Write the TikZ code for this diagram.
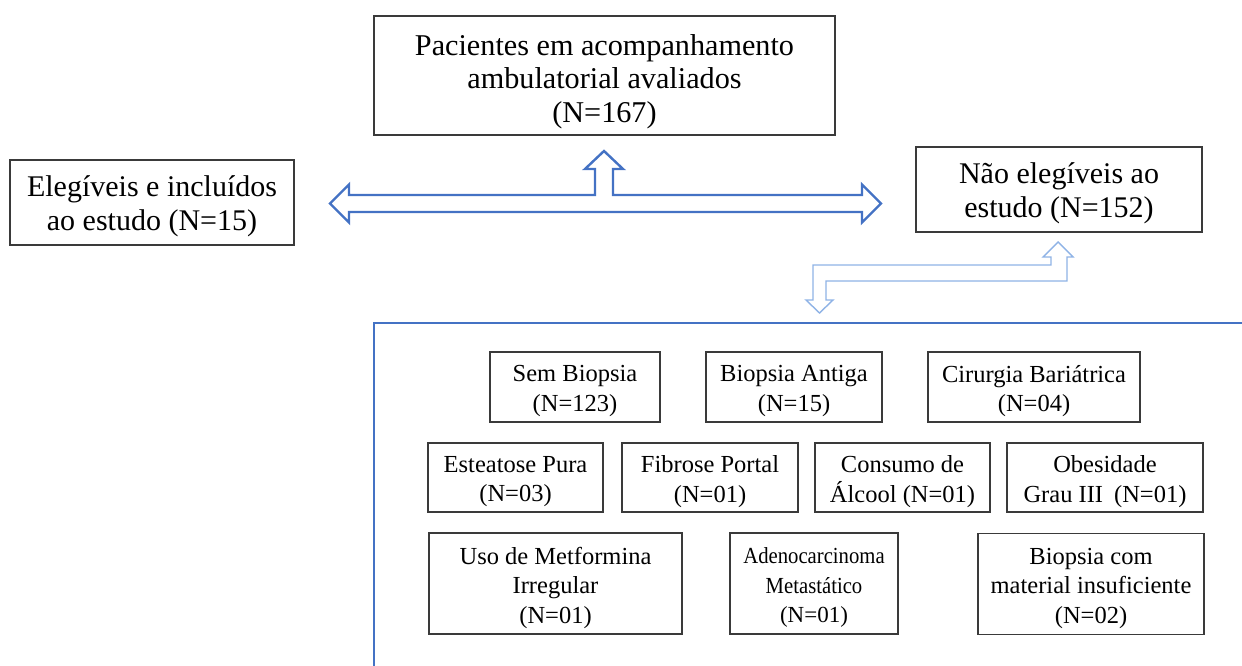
\documentclass[tikz,border=0pt]{standalone}
\usepackage{fontspec}
\setmainfont{Liberation Serif}
\definecolor{arrowblue}{HTML}{4472C4}
\definecolor{lightblue}{HTML}{8FB3E6}
\definecolor{boxgray}{HTML}{3A3A3A}
\begin{document}
\begin{tikzpicture}[x=1pt,y=-1pt,
  bigbox/.style={draw=boxgray,line width=1.3pt,inner sep=0pt},
  smallbox/.style={draw=boxgray,line width=1.2pt,inner sep=0pt},
  bigtext/.style={inner sep=0pt,align=center,yshift=-4pt,
    font=\fontsize{30}{33.5}\selectfont},
  smalltext/.style={inner sep=0pt,align=center,yshift=-4pt,
    font=\fontsize{24.5}{29.5}\selectfont},
  blockarrow/.style={draw=arrowblue,line width=2.4pt,line join=miter,fill=white},
  lightarrow/.style={draw=lightblue,line width=1.4pt,line join=miter,fill=white},
  frame/.style={draw=arrowblue,line width=2.6pt}]
\useasboundingbox (0,0) rectangle (1242,666);

% top-level boxes
\node[bigbox,minimum width=461pt,minimum height=119pt,
  label={[bigtext,yshift=-2pt,font=\fontsize{30.2}{33.5}\selectfont]center:{Pacientes em acompanhamento\\ambulatorial avaliados\\(N=167)}}]
  (total) at (604.5,75.5) {};
\node[bigbox,minimum width=284pt,minimum height=85pt,
  label={[bigtext]center:{Elegíveis e incluídos\\ao estudo (N=15)}}]
  (incl) at (152,202.5) {};
\node[bigbox,minimum width=286pt,minimum height=85pt,
  label={[bigtext]center:{Não elegíveis ao\\estudo (N=152)}}]
  (excl) at (1059,189.5) {};

% blue double block arrow with upward branch
\draw[blockarrow] (330,203.5) -- (349,184.5) -- (349,195) -- (595,195) -- (595,169)
  -- (585,169) -- (604,151) -- (623,169) -- (613,169) -- (613,195) -- (862,195)
  -- (862,184.5) -- (881,203.5) -- (862,222.5) -- (862,212) -- (349,212)
  -- (349,222.5) -- cycle;

% light blue bent arrow
\draw[lightarrow] (1058,242) -- (1073,257) -- (1067,257) -- (1067,281) -- (826,281)
  -- (826,300) -- (833,300) -- (819.5,313) -- (806,300) -- (813,300) -- (813,265)
  -- (1051,265) -- (1051,257) -- (1043,257) -- cycle;

% container frame (open to the right and bottom)
\coordinate (frameBL) at (374,667);
\coordinate (frameTL) at (374,323);
\coordinate (frameTR) at (1243,323);
\draw[frame] (frameBL) -- (frameTL) -- (frameTR);

% inner boxes, row 1
\node[smallbox,minimum width=170pt,minimum height=70pt,
  label={[smalltext]center:{Sem Biopsia\\(N=123)}}] (semb) at (575,387) {};
\node[smallbox,minimum width=176pt,minimum height=70pt,
  label={[smalltext]center:{Biopsia Antiga\\(N=15)}}] (antiga) at (794,387) {};
\node[smallbox,minimum width=212pt,minimum height=70pt,
  label={[smalltext]center:{Cirurgia Bariátrica\\(N=04)}}] (cirurgia) at (1034,387) {};
% row 2
\node[smallbox,minimum width=175pt,minimum height=69pt,
  label={[smalltext]center:{Esteatose Pura\\(N=03)}}] (esteatose) at (515.5,477.5) {};
\node[smallbox,minimum width=176pt,minimum height=69pt,
  label={[smalltext]center:{Fibrose Portal\\(N=01)}}] (fibrose) at (710,477.5) {};
\node[smallbox,minimum width=175pt,minimum height=69pt,
  label={[smalltext]center:{Consumo de\\Álcool (N=01)}}] (alcool) at (902.5,477.5) {};
\node[smallbox,minimum width=196pt,minimum height=69pt,
  label={[smalltext]center:{Obesidade\\Grau III\hspace{0.45em}(N=01)}}] (obesidade) at (1105,477.5) {};
% row 3
\node[smallbox,minimum width=253pt,minimum height=101pt,
  label={[smalltext]center:{Uso de Metformina\\Irregular\\(N=01)}}] (metformina) at (555.5,583.5) {};
\node[smallbox,minimum width=168pt,minimum height=101pt,
  label={[smalltext,font=\fontsize{23}{29.5}\selectfont]center:{\scalebox{0.9}[1]{Adenocarcinoma}\\\scalebox{0.9}[1]{Metastático}\\(N=01)}}] (adeno) at (814,583.5) {};
\node[smallbox,minimum width=226pt,minimum height=101pt,
  label={[smalltext]center:{Biopsia com\\material insuficiente\\(N=02)}}] (material) at (1091,584) {};
\end{tikzpicture}
\end{document}
